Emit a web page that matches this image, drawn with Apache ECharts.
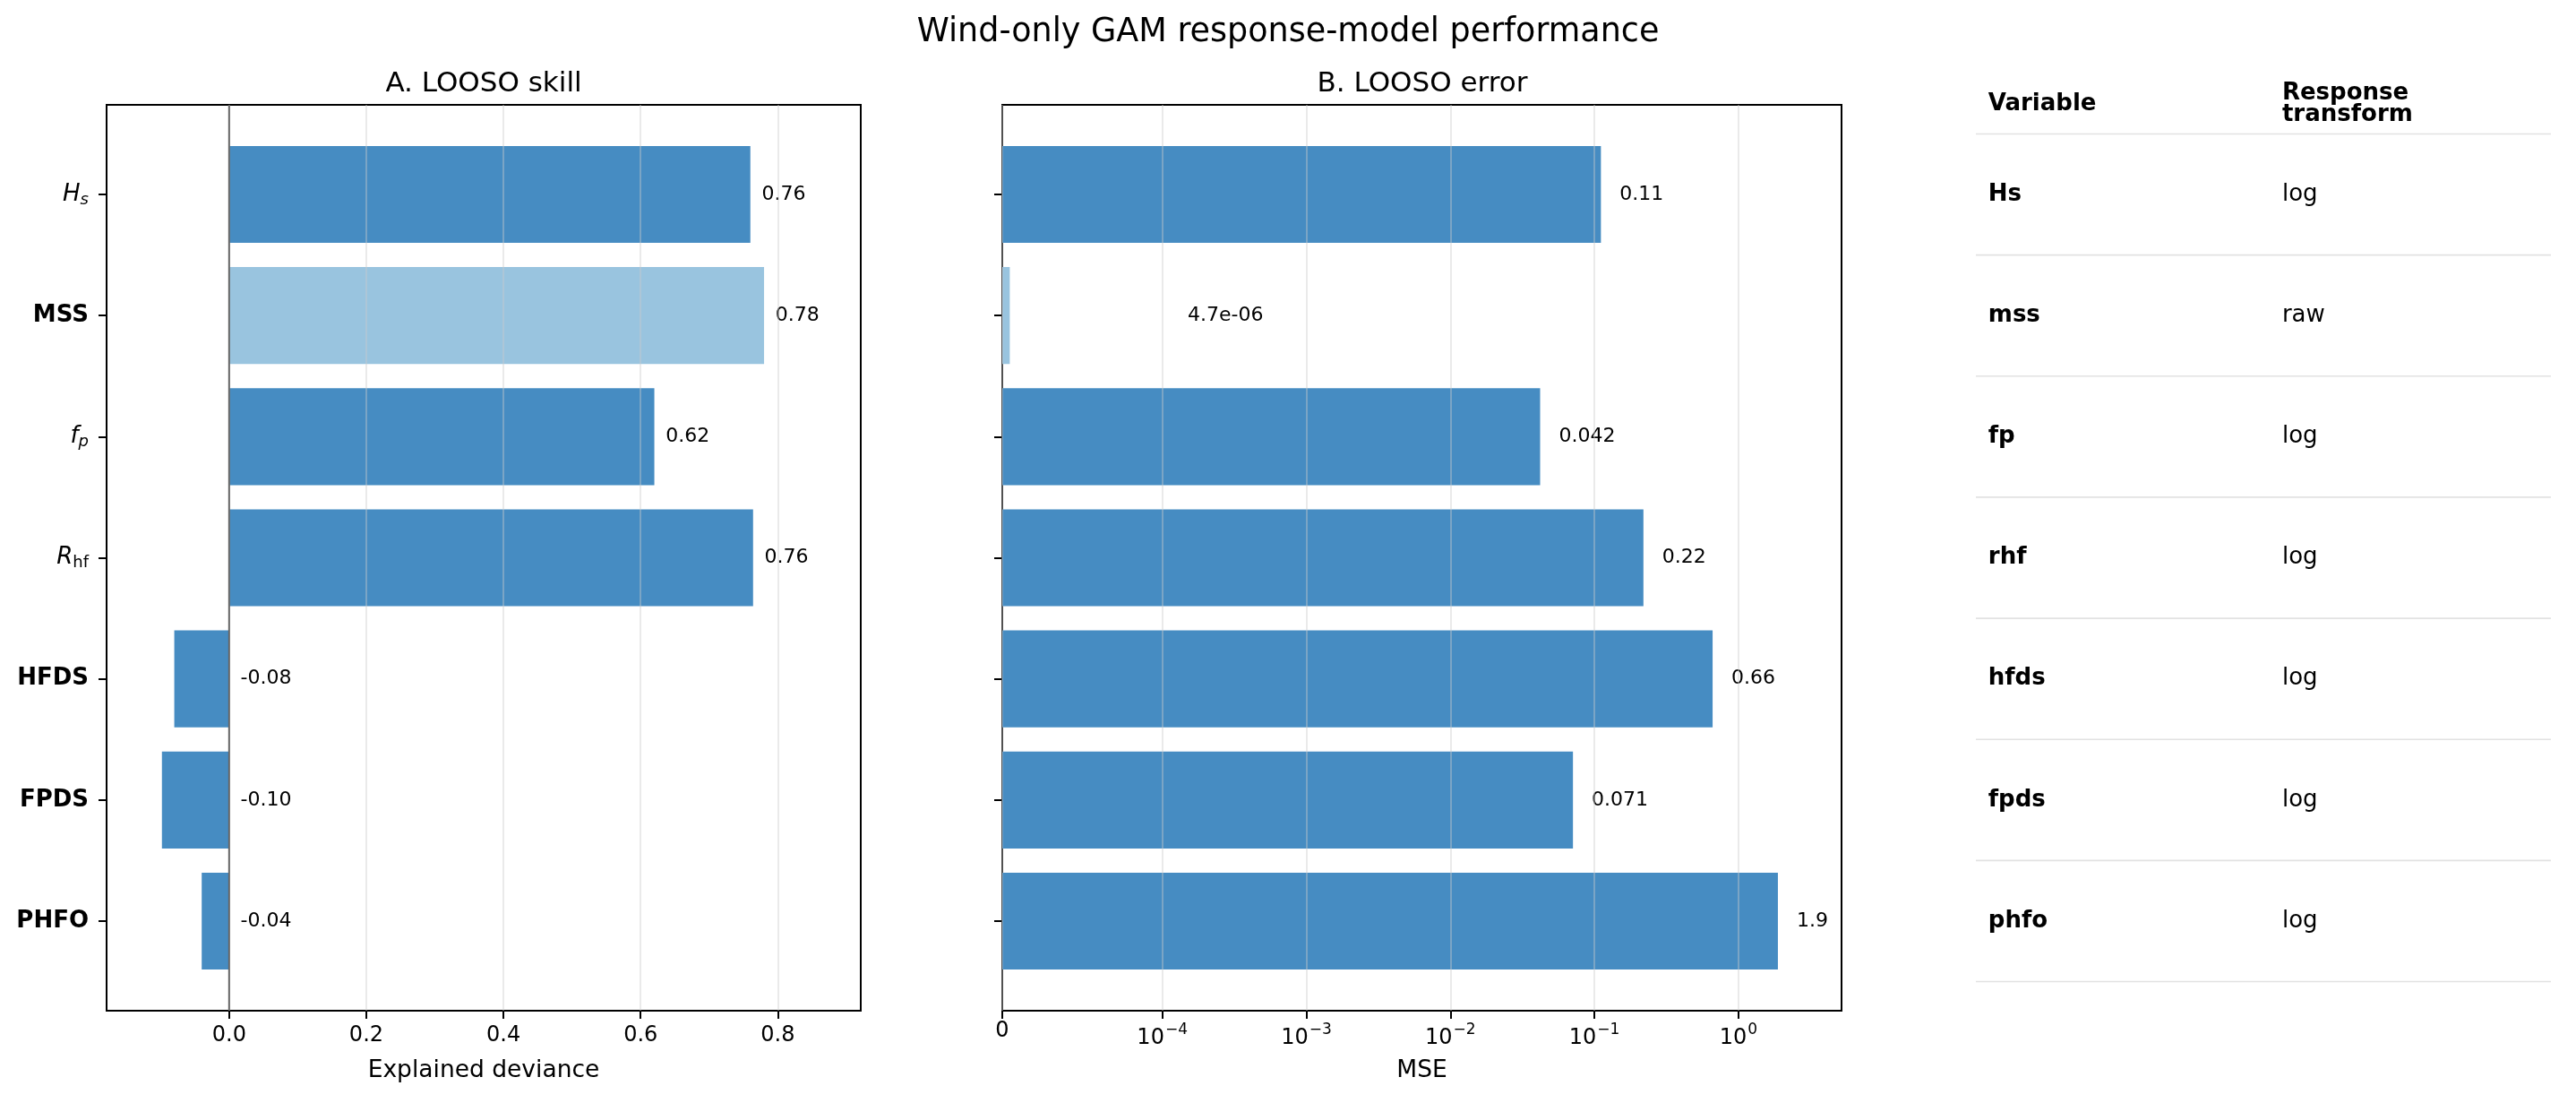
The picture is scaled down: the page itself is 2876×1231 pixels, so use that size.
<!DOCTYPE html>
<html><head><meta charset="utf-8">
<script src="https://cdn.jsdelivr.net/npm/echarts@6/dist/echarts.min.js"></script>
<style>html,body{margin:0;padding:0;background:#fff}#c{width:2876px;height:1231px}</style>
</head><body><div id="c"></div>
<script>
// ---------------- data ----------------
const variableKeys = ['Hs', 'MSS', 'fp', 'Rhf', 'HFDS', 'FPDS', 'PHFO'];
const variableLabels = ['{it|H}{subit|s}', '{b|MSS}', '{it|f}{subit|p}', '{it|R}{sub|hf}', '{b|HFDS}', '{b|FPDS}', '{b|PHFO}'];
const explainedDeviance = [0.76, 0.78, 0.62, 0.764, -0.08, -0.098, -0.04];
const looseMSE = [0.111, 4.7e-6, 0.042, 0.219, 0.662, 0.071, 1.88];
const skillTicks = [0, 0.2, 0.4, 0.6, 0.8];
const mseTicks = [0, 1e-4, 1e-3, 1e-2, 1e-1, 1];
const tableHeaders = ['Variable', 'Response\ntransform'];
const tableVariables = ['Hs', 'mss', 'fp', 'rhf', 'hfds', 'fpds', 'phfo'];
const tableTransforms = ['log', 'raw', 'log', 'log', 'log', 'log', 'log'];
const highlightVar = 'MSS';

// ---------------- helpers ----------------
const FONT = 'DejaVu Sans';
const BLUE = '#468cc2', LIGHT = '#99c4df';
const BAR_H = 0.8;
const Y_MIN = -0.74, Y_MAX = 6.74;
const LINTHRESH = 1e-4, LINSCALE_ADJ = 1 / (1 - 1 / 10);
function symlog(x) {
  const a = Math.abs(x), s = Math.sign(x);
  if (a <= LINTHRESH) return x / LINTHRESH * LINSCALE_ADJ;
  return s * (LINSCALE_ADJ + Math.log10(a / LINTHRESH));
}
function fmt2g(v) {
  if (v !== 0 && Math.abs(v) < 1e-4) {
    const s = v.toExponential(1);
    return s.replace(/e([+-])(\d)$/, 'e$10$2');
  }
  return String(Number(v.toPrecision(2)));
}
const yTickVals = variableKeys.map((_, i) => i);
const mseTickT = mseTicks.map(symlog);
function mseLabel(t) {
  let best = 0, bd = 1e9;
  mseTickT.forEach((tt, k) => { const d = Math.abs(tt - t); if (d < bd) { bd = d; best = k; } });
  const v = mseTicks[best];
  if (v === 0) return '0';
  const e = Math.round(Math.log10(v));
  return '{n|10}{sup|' + String(e).replace('-', '−') + '}';
}
const gridLine = {show: true, lineStyle: {color: 'rgba(204,204,204,0.5)', width: 1.6}};
const tickStyle = {show: true, length: 9, inside: false, lineStyle: {color: '#000', width: 2}};
const richY = {
  it: {fontFamily: FONT, fontStyle: 'italic', fontSize: 26, color: '#000'},
  subit: {fontFamily: FONT, fontStyle: 'italic', fontSize: 18, color: '#000', padding: [12, 0, 0, 0]},
  sub: {fontFamily: FONT, fontSize: 18, color: '#000', padding: [12, 0, 0, 0]},
  b: {fontFamily: FONT, fontWeight: 'bold', fontSize: 26, color: '#000'}
};
const richX = {
  n: {fontFamily: FONT, fontSize: 24, color: '#000', padding: [8, 0, 0, 0]},
  sup: {fontFamily: FONT, fontSize: 17, color: '#000', padding: [0, 0, 10, 1]}
};

function barRender(labelXFn) {
  return function (params, api) {
    const t = api.value(0), i = api.value(1), raw = api.value(2);
    const a = api.coord([0, i - BAR_H / 2]);
    const b = api.coord([t, i + BAR_H / 2]);
    const c = api.coord([0, i]);
    const color = variableKeys[i] === highlightVar ? LIGHT : BLUE;
    return {
      type: 'group',
      children: [
        {type: 'rect', shape: {x: Math.min(a[0], b[0]), y: Math.min(a[1], b[1]), width: Math.abs(b[0] - a[0]), height: Math.abs(b[1] - a[1])}, style: {fill: color}},
        {type: 'text', x: labelXFn(api, t, raw, i), y: c[1], style: {text: params.seriesIndex === 0 ? raw.toFixed(2) : fmt2g(raw), fontFamily: FONT, fontSize: 22, fill: '#000', align: 'left', verticalAlign: 'middle'}}
      ]
    };
  };
}

const chart = echarts.init(document.getElementById('c'));
chart.setOption({
  animation: false,
  backgroundColor: '#fff',
  title: [
    {text: 'Wind-only GAM response-model performance', left: 'center', top: 18, padding: 0, textStyle: {fontFamily: FONT, fontSize: 36.5, fontWeight: 'normal', color: '#000'}},
    {text: 'A. LOOSO skill', left: 540, textAlign: 'center', top: 78, padding: 0, textStyle: {fontFamily: FONT, fontSize: 31, fontWeight: 'normal', color: '#000'}},
    {text: 'B. LOOSO error', left: 1588, textAlign: 'center', top: 78, padding: 0, textStyle: {fontFamily: FONT, fontSize: 31, fontWeight: 'normal', color: '#000'}}
  ],
  grid: [
    {left: 119, top: 117, width: 842, height: 1011, show: true, borderColor: '#000', borderWidth: 2, backgroundColor: 'transparent'},
    {left: 1119, top: 117, width: 937, height: 1011, show: true, borderColor: '#000', borderWidth: 2, backgroundColor: 'transparent'},
    {left: 2206, top: 117, width: 642, height: 1011, show: false}
  ],
  xAxis: [
    {gridIndex: 0, type: 'value', min: -0.1787, max: 0.921, position: 'bottom', z: 5,
      axisLine: {show: false, onZero: false}, axisTick: Object.assign({customValues: skillTicks}, tickStyle),
      axisLabel: {customValues: skillTicks, formatter: v => v.toFixed(1), fontFamily: FONT, fontSize: 24, color: '#000', margin: 16},
      splitLine: gridLine,
      name: 'Explained deviance', nameLocation: 'middle', nameGap: 54, nameTextStyle: {fontFamily: FONT, fontSize: 26.5, color: '#000'}},
    {gridIndex: 1, type: 'value', min: 0, max: symlog(5.2), position: 'bottom', z: 5,
      axisLine: {show: false, onZero: false}, axisTick: Object.assign({customValues: mseTickT}, tickStyle),
      axisLabel: {customValues: mseTickT, formatter: mseLabel, rich: richX, fontFamily: FONT, fontSize: 24, color: '#000', margin: 11},
      splitLine: gridLine,
      name: 'MSE', nameLocation: 'middle', nameGap: 54, nameTextStyle: {fontFamily: FONT, fontSize: 26.5, color: '#000'}},
    {gridIndex: 2, type: 'value', min: 0, max: 1, show: false}
  ],
  yAxis: [
    {gridIndex: 0, type: 'value', min: Y_MIN, max: Y_MAX, inverse: true, position: 'left',
      axisLine: {show: false, onZero: false}, splitLine: {show: false},
      axisTick: Object.assign({customValues: yTickVals}, tickStyle),
      axisLabel: {customValues: yTickVals, formatter: v => variableLabels[Math.round(v)], rich: richY, margin: 20}},
    {gridIndex: 1, type: 'value', min: Y_MIN, max: Y_MAX, inverse: true, position: 'left',
      axisLine: {show: false, onZero: false}, splitLine: {show: false},
      axisTick: Object.assign({customValues: yTickVals}, tickStyle),
      axisLabel: {show: false}},
    {gridIndex: 2, type: 'value', min: Y_MIN, max: Y_MAX, inverse: true, show: false}
  ],
  series: [
    {type: 'custom', xAxisIndex: 0, yAxisIndex: 0, z: 2,
      data: explainedDeviance.map((v, i) => [v, i, v]),
      encode: {x: 0, y: 1},
      renderItem: barRender((api, t, raw, i) => api.coord([Math.max(t, 0), i])[0] + 12.7)},
    {type: 'custom', xAxisIndex: 1, yAxisIndex: 1, z: 2,
      data: looseMSE.map((v, i) => [symlog(v), i, v]),
      encode: {x: 0, y: 1},
      renderItem: barRender((api, t, raw, i) => api.coord([symlog(Math.max(raw * 1.35, 1.5e-4)), i])[0])},
    {type: 'line', xAxisIndex: 0, yAxisIndex: 0, z: 6, symbol: 'none', silent: true,
      data: [[0, Y_MIN], [0, Y_MAX]], lineStyle: {color: '#666', width: 2}},
    {type: 'custom', xAxisIndex: 2, yAxisIndex: 2, silent: true,
      data: tableVariables.map((v, i) => [i]),
      encode: {y: 0},
      renderItem: function (params, api) {
        const i = api.value(0);
        const c1 = api.coord([0.0215, i]), c2 = api.coord([0.5326, i]);
        const l0 = api.coord([0, i + 0.5]), l1 = api.coord([1, i + 0.5]);
        const children = [
          {type: 'text', x: c1[0], y: c1[1], style: {text: tableVariables[i], fontFamily: FONT, fontWeight: 'bold', fontSize: 26, fill: '#000', align: 'left', verticalAlign: 'middle'}},
          {type: 'text', x: c2[0], y: c2[1], style: {text: tableTransforms[i], fontFamily: FONT, fontSize: 26, fill: '#000', align: 'left', verticalAlign: 'middle'}},
          {type: 'line', shape: {x1: l0[0], y1: l0[1], x2: l1[0], y2: l1[1]}, style: {stroke: '#e2e2e2', lineWidth: 1.6}}
        ];
        if (i === 0) {
          const h1 = api.coord([0.0215, -0.745]), h2 = api.coord([0.5326, -0.745]);
          const t0 = api.coord([0, -0.5]), t1 = api.coord([1, -0.5]);
          children.push(
            {type: 'text', x: h1[0], y: h1[1], style: {text: tableHeaders[0], fontFamily: FONT, fontWeight: 'bold', fontSize: 26, fill: '#000', align: 'left', verticalAlign: 'middle'}},
            {type: 'text', x: h2[0], y: h2[1], style: {text: tableHeaders[1], fontFamily: FONT, fontWeight: 'bold', fontSize: 26, lineHeight: 23.3, fill: '#000', align: 'left', verticalAlign: 'middle'}},
            {type: 'line', shape: {x1: t0[0], y1: t0[1], x2: t1[0], y2: t1[1]}, style: {stroke: '#e2e2e2', lineWidth: 1.6}}
          );
        }
        return {type: 'group', children: children};
      }}
  ]
});
</script>
</body></html>
